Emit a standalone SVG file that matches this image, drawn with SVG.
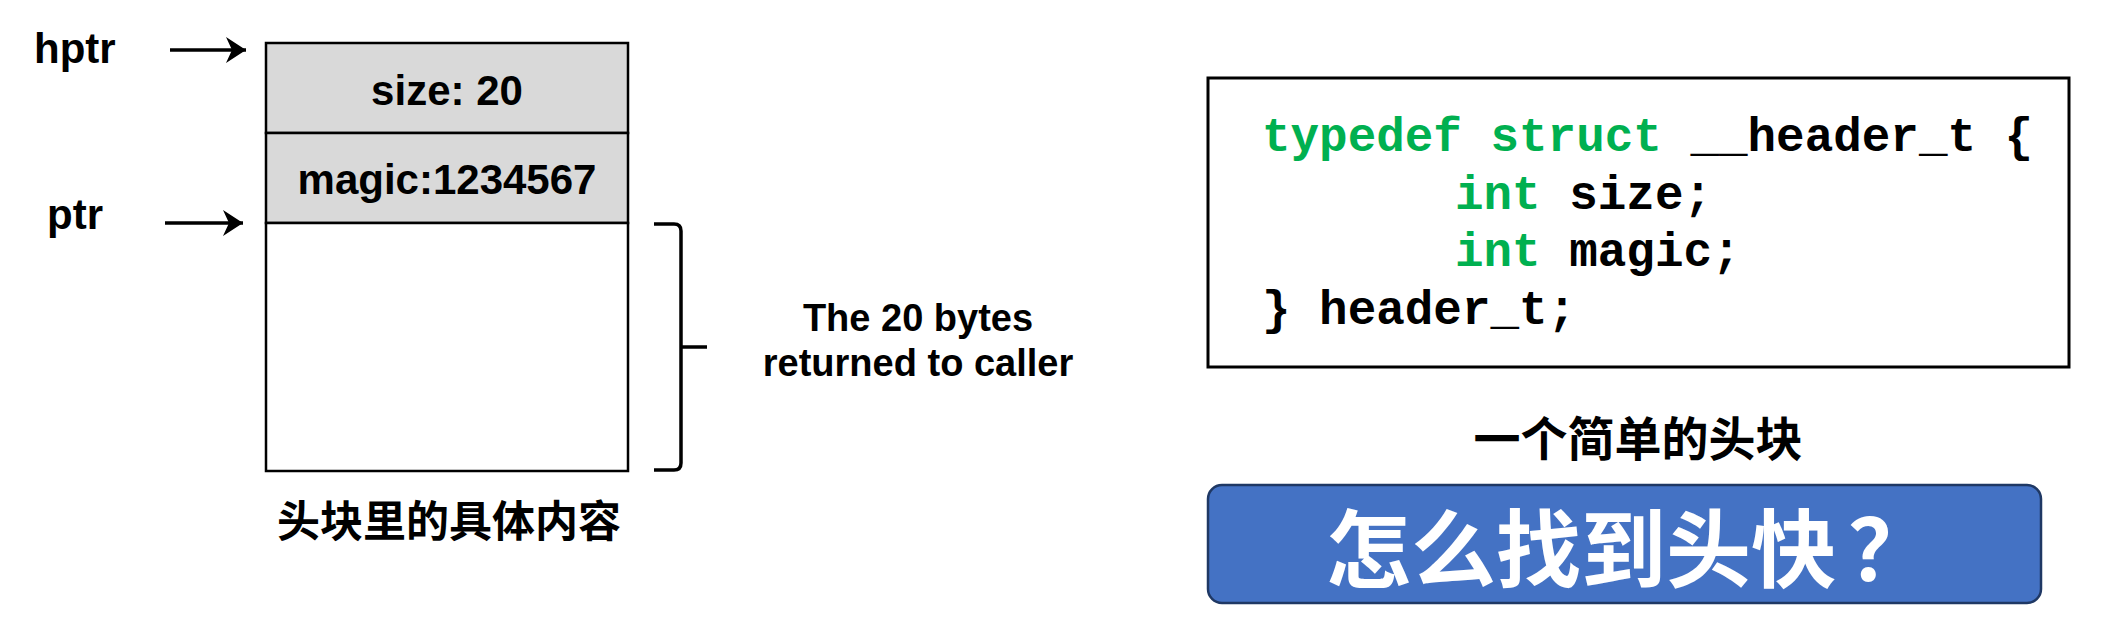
<svg xmlns="http://www.w3.org/2000/svg" width="2107" height="627" viewBox="0 0 2107 627">
<style>
.lbl{font-family:"Liberation Sans",Arial,sans-serif;font-weight:bold;font-size:42px;fill:#000}
.lbl2{font-family:"Liberation Sans",Arial,sans-serif;font-weight:bold;font-size:38px;fill:#000}
.cjk{font-family:"Noto Sans CJK SC",sans-serif;font-weight:bold;fill:#000}
.code{font-family:"Liberation Mono","Courier New",monospace;font-weight:bold;font-size:47.6px;fill:#000}
.kw{fill:#00B050}
.cell{stroke:#000;stroke-width:2.5}
.conn{stroke:#000;stroke-width:3.5;fill:none}
</style>
<defs>
<marker id="ah" viewBox="0 0 20 26" refX="20" refY="13" markerWidth="20" markerHeight="26" markerUnits="userSpaceOnUse" orient="auto">
<path d="M0,0 L20,13 L0,26 L6,13 Z" fill="#000"/>
</marker>
</defs>
<g id="memory-block">
<rect class="cell" x="266" y="43" width="362" height="90" fill="#d9d9d9"/>
<rect class="cell" x="266" y="133" width="362" height="90" fill="#d9d9d9"/>
<rect class="cell" x="266" y="223" width="362" height="248" fill="#fff"/>
<text class="lbl" x="447" y="105" text-anchor="middle">size: 20</text>
<text class="lbl" x="447" y="194" text-anchor="middle">magic:1234567</text>
</g>
<g id="hptr-label"><text class="lbl" x="34" y="63">hptr</text></g>
<g id="ptr-label"><text class="lbl" x="47" y="229">ptr</text></g>
<g id="connectors">
<line class="conn" x1="170" y1="50" x2="246" y2="50" marker-end="url(#ah)"/>
<line class="conn" x1="165" y1="223" x2="243" y2="223" marker-end="url(#ah)"/>
<path class="conn" d="M654,224 L674,224 Q681,224 681,231 L681,463 Q681,470 674,470 L654,470 M681,347 L707,347"/>
</g>
<g id="bytes-label">
<text class="lbl2" x="918" y="331" text-anchor="middle">The 20 bytes</text>
<text class="lbl2" x="918" y="376" text-anchor="middle">returned to caller</text>
</g>
<g id="block-caption"><text class="cjk" x="449" y="537" font-size="43" text-anchor="middle">头块里的具体内容</text></g>
<g id="code-box">
<rect x="1208" y="78" width="861" height="289" fill="#fff" stroke="#000" stroke-width="3"/>
<text class="code" x="1262" y="151"><tspan class="kw">typedef struct</tspan> __header_t {</text>
<text class="code" x="1455" y="209"><tspan class="kw">int</tspan> size;</text>
<text class="code" x="1455" y="266"><tspan class="kw">int</tspan> magic;</text>
<text class="code" x="1262" y="324">} header_t;</text>
</g>
<g id="code-caption"><text class="cjk" x="1638" y="456" font-size="47" text-anchor="middle">一个简单的头块</text></g>
<g id="question-box">
<rect x="1208" y="485" width="833" height="118" rx="14" ry="14" fill="#4472C4" stroke="#1F3864" stroke-width="2.5"/>
<text x="1326" y="581" font-family="'Noto Sans CJK SC',sans-serif" font-size="85" font-weight="700" fill="#fff">怎么找到头快<tspan x="1848">？</tspan></text>
</g>
</svg>
